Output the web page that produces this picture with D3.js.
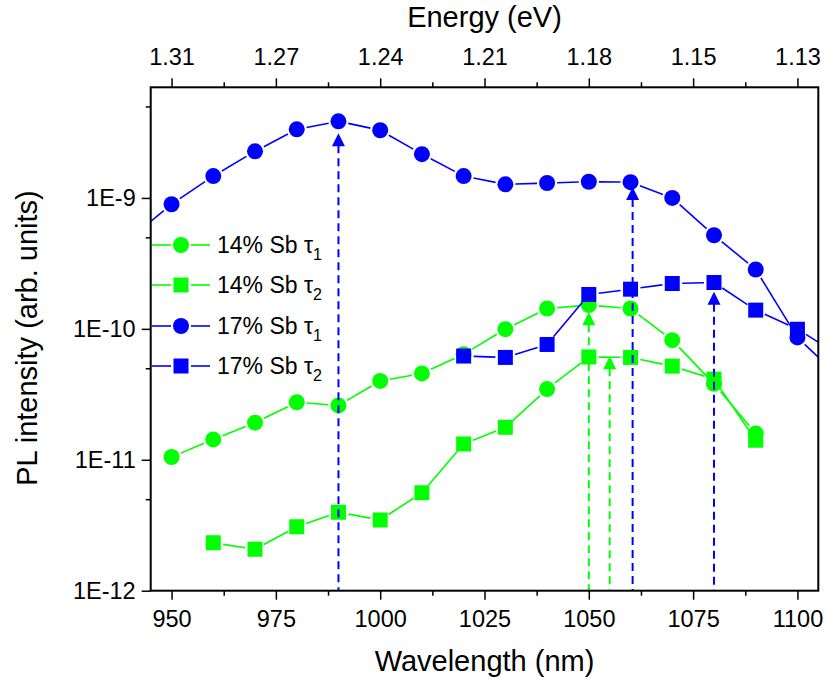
<!DOCTYPE html>
<html>
<head>
<meta charset="utf-8">
<script src="https://cdn.jsdelivr.net/npm/d3@7"></script>
<style>
	body { margin: 0; background: #fff; }
	text { font-family: "Liberation Sans", Arial, sans-serif; fill: #000; }
</style>
</head>
<body>
<script>
// values
const wl14t1 = [950, 960, 970, 980, 990, 1000, 1010, 1020, 1030, 1040, 1050, 1060, 1070, 1080, 1090];
const pl14t1 = [1.05e-11, 1.43e-11, 1.92e-11, 2.75e-11, 2.6e-11, 4.0e-11, 4.57e-11, 6.4e-11, 9.95e-11, 1.43e-10, 1.52e-10, 1.43e-10, 8.2e-11, 3.8e-11, 1.59e-11];

const wl14t2 = [960, 970, 980, 990, 1000, 1010, 1020, 1030, 1040, 1050, 1060, 1070, 1080, 1090];
const pl14t2 = [2.32e-12, 2.07e-12, 3.08e-12, 3.97e-12, 3.47e-12, 5.6e-12, 1.32e-11, 1.77e-11, 3.47e-11, 6.1e-11, 6.05e-11, 5.19e-11, 4.13e-11, 1.41e-11];
// one point of this set is drawn with a circle in the original
const sym14t2 = ['s', 's', 's', 's', 's', 's', 's', 's', 'c', 's', 's', 's', 's', 's'];

const wl17t1 = [940, 950, 960, 970, 980, 990, 1000, 1010, 1020, 1030, 1040, 1050, 1060, 1070, 1080, 1090, 1100, 1110];
const pl17t1 = [4.9e-10, 8.95e-10, 1.47e-9, 2.27e-9, 3.34e-9, 3.85e-9, 3.29e-9, 2.16e-9, 1.47e-9, 1.27e-9, 1.30e-9, 1.33e-9, 1.32e-9, 1.0e-9, 5.19e-10, 2.84e-10, 8.6e-11, 4.3e-11];

const wl17t2 = [1020, 1030, 1040, 1050, 1060, 1070, 1080, 1090, 1100, 1110];
const pl17t2 = [6.2e-11, 6.05e-11, 7.6e-11, 1.83e-10, 2.01e-10, 2.22e-10, 2.26e-10, 1.39e-10, 9.95e-11, 6.3e-11];

// peak markers (dashed arrows)
const arrowWl = [990, 1060.5, 1080, 1050, 1055];
const arrowTip = [3.12e-9, 1.21e-9, 1.92e-10, 1.34e-10, 6.19e-11];
const arrowSet = ['17', '17', '17', '14', '14'];

const xMajor = [950, 975, 1000, 1025, 1050, 1075, 1100];
const xMinor = [962.5, 987.5, 1012.5, 1037.5, 1062.5, 1087.5];
const energyLabels = ['1.31', '1.27', '1.24', '1.21', '1.18', '1.15', '1.13'];
const yMajor = [1e-12, 1e-11, 1e-10, 1e-9];
const yLabels = ['1E-12', '1E-11', '1E-10', '1E-9'];
const yMinor = [5e-12, 5e-11, 5e-10, 5e-9];

const green = '#00ff00';
const blue = '#0000ff';
const colour = {'14': green, '17': blue};

const pLeft = 150.7, pRight = 818.3, pTop = 87.3, pBottom = 590.7;

let svg = d3.select("body").append("svg")
	.attr("width", 829)
	.attr("height", 682);

let x = d3.scaleLinear().domain([945, 1105]).range([pLeft, pRight]);
let y = d3.scaleLog().domain([1e-12, 7e-9]).range([pBottom, pTop]);

svg.append("defs").append("clipPath").attr("id", "plot")
	.append("rect")
		.attr("x", pLeft).attr("y", pTop)
		.attr("width", pRight - pLeft).attr("height", pBottom - pTop);

// axes
function styleAxis(g){
	g.select(".domain").remove();
	g.selectAll(".tick line").attr("stroke", "#000").attr("stroke-width", 1.5);
	g.selectAll("text").style("font-size", "23.5px").attr("fill", "#000");
}

svg.append("g")
	.attr("transform", "translate(0," + pBottom + ")")
	.call(d3.axisBottom(x).tickValues(xMajor).tickSize(9).tickPadding(11).tickFormat(d3.format("d")))
	.call(styleAxis);
svg.append("g")
	.attr("transform", "translate(0," + pBottom + ")")
	.call(d3.axisBottom(x).tickValues(xMinor).tickSize(5).tickFormat(""))
	.call(styleAxis);

svg.append("g")
	.attr("transform", "translate(0," + pTop + ")")
	.call(d3.axisTop(x).tickValues(xMajor).tickSize(9).tickPadding(13)
		.tickFormat(function(d, i){ return energyLabels[i]; }))
	.call(styleAxis);
svg.append("g")
	.attr("transform", "translate(0," + pTop + ")")
	.call(d3.axisTop(x).tickValues(xMinor).tickSize(5).tickFormat(""))
	.call(styleAxis);

svg.append("g")
	.attr("transform", "translate(" + pLeft + ",0)")
	.call(d3.axisLeft(y).tickValues(yMajor).tickSize(9).tickPadding(6)
		.tickFormat(function(d, i){ return yLabels[i]; }))
	.call(styleAxis);
svg.append("g")
	.attr("transform", "translate(" + pLeft + ",0)")
	.call(d3.axisLeft(y).tickValues(yMinor).tickSize(5).tickFormat(""))
	.call(styleAxis);

// axis titles
svg.append("text")
	.attr("x", (pLeft + pRight) / 2).attr("y", 671)
	.attr("text-anchor", "middle").style("font-size", "29px")
	.text("Wavelength (nm)");
svg.append("text")
	.attr("x", (pLeft + pRight) / 2).attr("y", 27)
	.attr("text-anchor", "middle").style("font-size", "29px")
	.text("Energy (eV)");
svg.append("text")
	.attr("transform", "translate(37,338) rotate(-90)")
	.attr("text-anchor", "middle").style("font-size", "29px")
	.text("PL intensity (arb. units)");

// series
let series = [
	{label: "14% Sb", sub: "1", wl: wl14t1, pl: pl14t1, colour: green, sym: null, shape: 'c'},
	{label: "14% Sb", sub: "2", wl: wl14t2, pl: pl14t2, colour: green, sym: sym14t2, shape: 's'},
	{label: "17% Sb", sub: "1", wl: wl17t1, pl: pl17t1, colour: blue, sym: null, shape: 'c'},
	{label: "17% Sb", sub: "2", wl: wl17t2, pl: pl17t2, colour: blue, sym: null, shape: 's'},
];
const drawOrder = [1, 0, 3, 2];

const circle = d3.symbol().type(d3.symbolCircle).size(Math.PI * 64);
const square = d3.symbol().type(d3.symbolSquare).size(225);
const gap = 10;

function shortened(p1, p2){
	let dx = p2[0] - p1[0], dy = p2[1] - p1[1];
	let len = Math.sqrt(dx * dx + dy * dy);
	if (len <= 2 * gap) return null;
	let ux = dx / len, uy = dy / len;
	return [p1[0] + ux * gap, p1[1] + uy * gap, p2[0] - ux * gap, p2[1] - uy * gap];
}

let plot = svg.append("g").attr("clip-path", "url(#plot)");

drawOrder.forEach(function(k){
	let s = series[k];
	let pts = s.wl.map(function(w, i){
		return {px: x(w), py: y(s.pl[i]), shape: s.sym ? s.sym[i] : s.shape};
	});
	let segs = [];
	for (let i = 1; i < pts.length; i++) {
		let seg = shortened([pts[i-1].px, pts[i-1].py], [pts[i].px, pts[i].py]);
		if (seg) segs.push(seg);
	}
	let g = plot.append("g");
	g.selectAll("line").data(segs).enter().append("line")
		.attr("x1", function(d){ return d[0]; })
		.attr("y1", function(d){ return d[1]; })
		.attr("x2", function(d){ return d[2]; })
		.attr("y2", function(d){ return d[3]; })
		.attr("stroke", s.colour)
		.attr("stroke-width", 1.6);
	g.selectAll("path").data(pts).enter().append("path")
		.attr("transform", function(d){ return "translate(" + d.px + "," + d.py + ")"; })
		.attr("d", function(d){ return d.shape == 'c' ? circle() : square(); })
		.attr("fill", s.colour);
});

// arrows
let arrows = svg.append("g");
arrowWl.forEach(function(w, i){
	let c = colour[arrowSet[i]];
	let ax = x(w), ay = y(arrowTip[i]);
	arrows.append("line")
		.attr("x1", ax).attr("x2", ax)
		.attr("y1", ay + 12).attr("y2", pBottom)
		.attr("stroke", c)
		.attr("stroke-width", 2)
		.attr("stroke-dasharray", "8,5");
	arrows.append("path")
		.attr("d", "M" + ax + "," + ay + "L" + (ax - 6.5) + "," + (ay + 13) + "L" + (ax + 6.5) + "," + (ay + 13) + "Z")
		.attr("fill", c);
});

// legend
const legendY = [245, 285, 326, 366];
let legend = svg.append("g");
series.forEach(function(s, i){
	let ly = legendY[i];
	legend.append("line").attr("x1", 152).attr("x2", 171).attr("y1", ly).attr("y2", ly)
		.attr("stroke", s.colour).attr("stroke-width", 1.6);
	legend.append("line").attr("x1", 191).attr("x2", 210).attr("y1", ly).attr("y2", ly)
		.attr("stroke", s.colour).attr("stroke-width", 1.6);
	legend.append("path")
		.attr("transform", "translate(181," + ly + ")")
		.attr("d", s.shape == 'c' ? circle() : square())
		.attr("fill", s.colour);
	let t = legend.append("text")
		.attr("x", 217).attr("y", ly + 8)
		.style("font-size", "23px");
	t.append("tspan").text(s.label + " \u03c4");
	t.append("tspan").attr("dy", 7).style("font-size", "16px").text(s.sub);
});

// frame
svg.append("rect")
	.attr("x", pLeft).attr("y", pTop)
	.attr("width", pRight - pLeft).attr("height", pBottom - pTop)
	.attr("fill", "none")
	.attr("stroke", "#000")
	.attr("stroke-width", 2);
</script>
</body>
</html>
